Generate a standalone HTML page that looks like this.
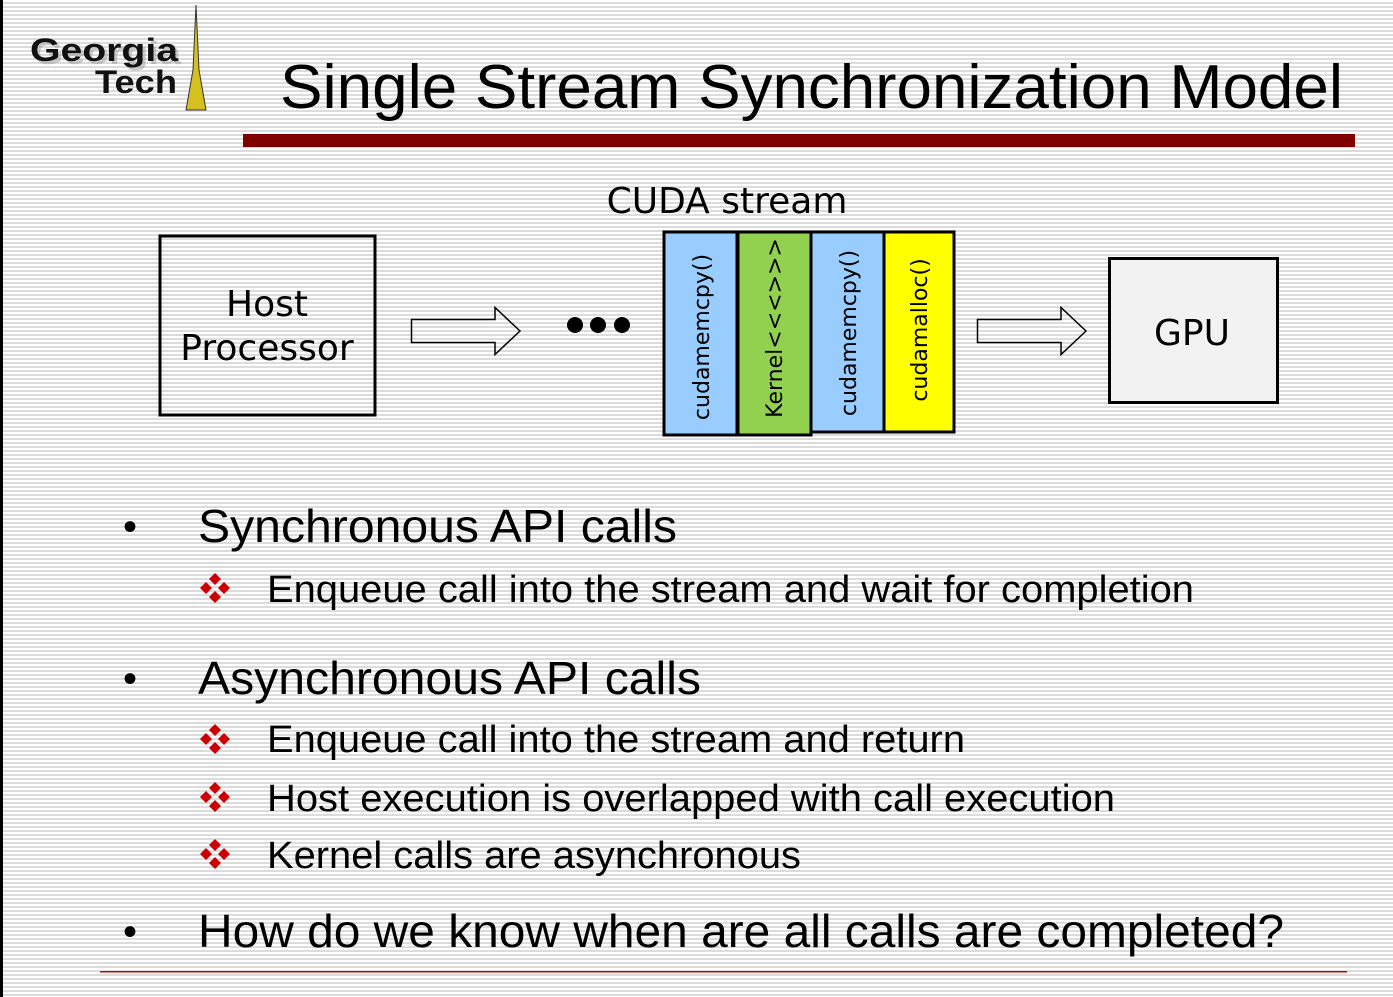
<!DOCTYPE html>
<html><head><meta charset="utf-8"><style>
html,body{margin:0;padding:0;}
body{width:1393px;height:997px;overflow:hidden;background:#fff repeating-linear-gradient(to bottom,#fff 0,#fff 2px,#dcdcdc 2px,#dcdcdc 4px);}
svg{position:absolute;left:0;top:0;}
</style></head><body>
<svg width="1393" height="997" viewBox="0 0 1393 997" xmlns="http://www.w3.org/2000/svg">
<rect x="0" y="0" width="3" height="997" fill="#000"/>
<!-- logo -->
<text x="33" y="64" font-family="Liberation Sans, sans-serif" font-weight="bold" font-size="32" fill="#999" opacity="0.5" textLength="148" lengthAdjust="spacingAndGlyphs">Georgia</text>
<text x="30" y="61" font-family="Liberation Sans, sans-serif" font-weight="bold" font-size="32" fill="#111" textLength="148" lengthAdjust="spacingAndGlyphs">Georgia</text>
<text x="95" y="93" font-family="Liberation Sans, sans-serif" font-weight="bold" font-size="32" fill="#111" textLength="82" lengthAdjust="spacingAndGlyphs">Tech</text>
<polygon points="196,5 199,70 206,110 186,110 193,70" fill="#d6c020" stroke="#333" stroke-width="1"/>
<!-- title -->
<text x="280" y="108" font-family="Liberation Sans, sans-serif" font-size="62" fill="#000" textLength="1063" lengthAdjust="spacingAndGlyphs">Single Stream Synchronization Model</text>
<rect x="243" y="134" width="1112" height="13" fill="#800000"/>
<!-- diagram -->
<text x="727" y="213" text-anchor="middle" font-family="DejaVu Sans, sans-serif" font-size="36" fill="#000">CUDA stream</text>
<rect x="160" y="236" width="215" height="179" fill="none" stroke="#000" stroke-width="3"/>
<text x="267" y="316" text-anchor="middle" font-family="DejaVu Sans, sans-serif" font-size="36">Host</text>
<text x="267" y="360" text-anchor="middle" font-family="DejaVu Sans, sans-serif" font-size="36">Processor</text>
<polygon points="411.5,319.5 495,319.5 495,307.5 520,331 495,354.5 495,342.5 411.5,342.5" fill="none" stroke="#000" stroke-width="1.5"/>
<circle cx="575" cy="325" r="8"/><circle cx="598" cy="325" r="8"/><circle cx="622" cy="325" r="8"/>
<polygon points="977.5,319.5 1061,319.5 1061,307.5 1086,331 1061,354.5 1061,342.5 977.5,342.5" fill="none" stroke="#000" stroke-width="1.5"/>
<rect x="664" y="232" width="73" height="203" fill="#99ccff" stroke="#000" stroke-width="3"/>
<rect x="738" y="232" width="73" height="203" fill="#92d050" stroke="#000" stroke-width="3"/>
<rect x="811" y="232" width="73" height="200" fill="#99ccff" stroke="#000" stroke-width="3"/>
<rect x="884" y="232" width="70" height="200" fill="#ffff00" stroke="#000" stroke-width="3"/>
<g font-family="DejaVu Sans, sans-serif" font-size="22" fill="#000" text-anchor="middle">
<text transform="translate(709,337) rotate(-90)">cudamemcpy()</text>
<text transform="translate(782,328) rotate(-90)">Kernel&lt;&lt;&lt;&gt;&gt;&gt;</text>
<text transform="translate(856,333) rotate(-90)">cudamemcpy()</text>
<text transform="translate(927,330) rotate(-90)">cudamalloc()</text>
</g>
<rect x="1109.5" y="258.5" width="168" height="144" fill="#f2f2f2" stroke="#000" stroke-width="3"/>
<text x="1192" y="345" text-anchor="middle" font-family="DejaVu Sans, sans-serif" font-size="36">GPU</text>
<!-- bullets -->
<defs>
<g id="d" fill="#cc0000">
<polygon points="0,-15 6,-9 0,-3 -6,-9"/>
<polygon points="0,15 6,9 0,3 -6,9"/>
<polygon points="-15,0 -9,6 -3,0 -9,-6"/>
<polygon points="15,0 9,6 3,0 9,-6"/>
</g>
</defs>
<g font-family="Liberation Sans, sans-serif" fill="#000">
<text x="123" y="540" font-size="40">•</text>
<text x="198" y="542" font-size="46" textLength="479" lengthAdjust="spacingAndGlyphs">Synchronous API calls</text>
<use href="#d" x="215" y="588"/>
<text x="267" y="602" font-size="38" textLength="927" lengthAdjust="spacingAndGlyphs">Enqueue call into the stream and wait for completion</text>
<text x="123" y="692" font-size="40">•</text>
<text x="198" y="694" font-size="46" textLength="503" lengthAdjust="spacingAndGlyphs">Asynchronous API calls</text>
<use href="#d" x="215" y="739"/>
<text x="267" y="752" font-size="38" textLength="698" lengthAdjust="spacingAndGlyphs">Enqueue call into the stream and return</text>
<use href="#d" x="215" y="797"/>
<text x="267" y="811" font-size="38" textLength="848" lengthAdjust="spacingAndGlyphs">Host execution is overlapped with call execution</text>
<use href="#d" x="215" y="854"/>
<text x="267" y="868" font-size="38" textLength="534" lengthAdjust="spacingAndGlyphs">Kernel calls are asynchronous</text>
<text x="123" y="945" font-size="40">•</text>
<text x="198" y="947" font-size="46" textLength="1086" lengthAdjust="spacingAndGlyphs">How do we know when are all calls are completed?</text>
</g>
<rect x="100" y="971" width="1247" height="1.5" fill="#cc0000"/>
</svg>
</body></html>
